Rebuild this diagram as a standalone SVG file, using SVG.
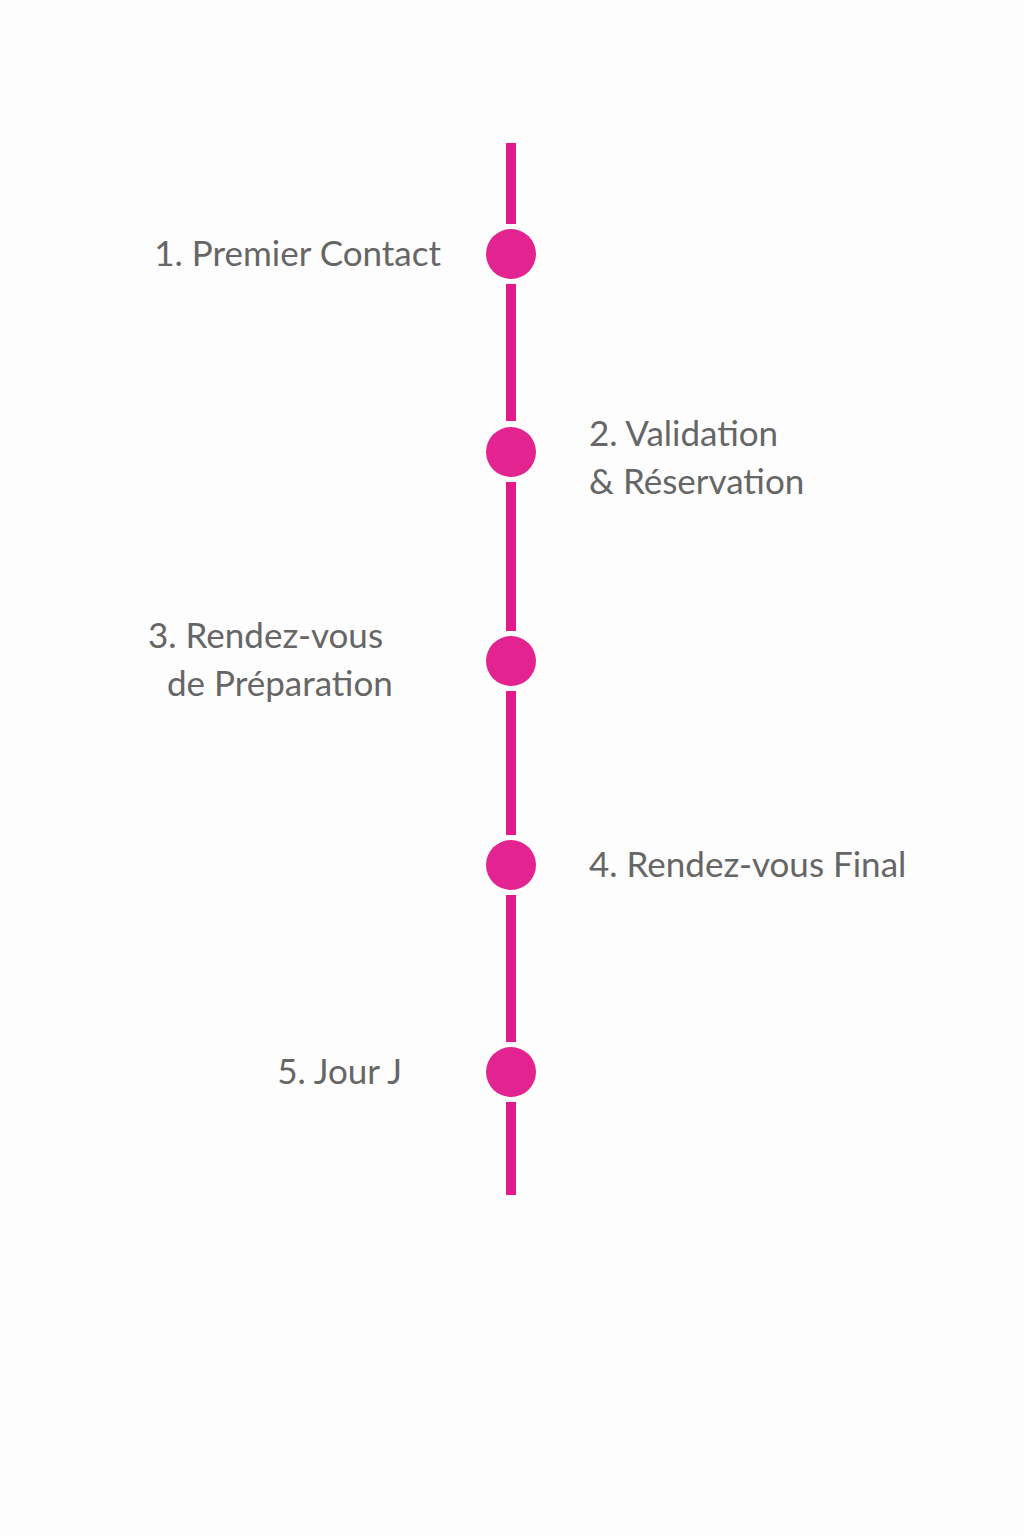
<svg xmlns="http://www.w3.org/2000/svg" width="1024" height="1536" viewBox="0 0 1024 1536">
<style>
.seg{stroke:#e3198a;stroke-width:10;fill:none}
.dot{fill:#e3238f}
.t{font-family:Lato,"Open Sans",sans-serif;font-size:35px;fill:#666}
</style>
<rect width="1024" height="1536" fill="#fdfdfd"/>
<g id="connectors">
<line class="seg" x1="511" y1="143" x2="511" y2="224"/>
<line class="seg" x1="511" y1="284" x2="511" y2="421"/>
<line class="seg" x1="511" y1="482" x2="511" y2="631"/>
<line class="seg" x1="511" y1="691" x2="511" y2="835"/>
<line class="seg" x1="511" y1="895" x2="511" y2="1042"/>
<line class="seg" x1="511" y1="1102" x2="511" y2="1195"/>
</g>
<g id="n1"><circle class="dot" cx="511" cy="254" r="25"/><text class="t" x="441" y="266" text-anchor="end">1. Premier Contact</text></g>
<g id="n2"><circle class="dot" cx="511" cy="452" r="25"/><text class="t" x="589" y="446">2. Validation</text><text class="t" x="589" y="494">&amp; Réservation</text></g>
<g id="n3"><circle class="dot" cx="511" cy="661" r="25"/><text class="t" x="148" y="648">3. Rendez-vous</text><text class="t" x="167" y="696">de Préparation</text></g>
<g id="n4"><circle class="dot" cx="511" cy="865" r="25"/><text class="t" x="589" y="877">4. Rendez-vous Final</text></g>
<g id="n5"><circle class="dot" cx="511" cy="1072" r="25"/><text class="t" x="402" y="1084" text-anchor="end">5. Jour J</text></g>
</svg>
